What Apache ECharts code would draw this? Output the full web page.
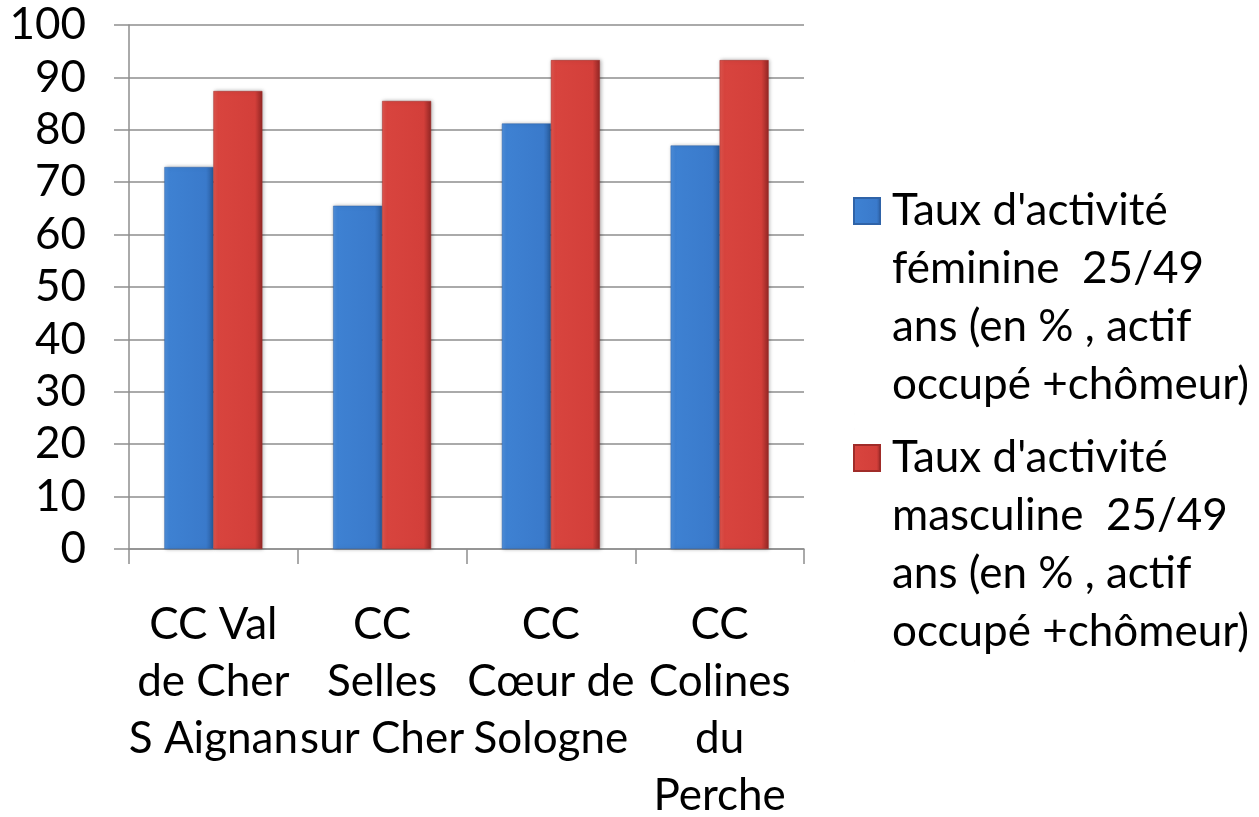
<!DOCTYPE html>
<html>
<head>
<meta charset="utf-8">
<script src="https://cdn.jsdelivr.net/npm/echarts@6/dist/echarts.min.js"></script>
<style>
  html, body { margin: 0; padding: 0; background: #fff; }
  #chart-1 { width: 1259px; height: 817px; }
</style>
</head>
<body>
<div id="chart-1"></div>
<script>
var categories = [
  "CC Val\nde Cher\nS Aignan",
  "CC\nSelles\nsur Cher",
  "CC\nCœur de\nSologne",
  "CC\nColines\ndu\nPerche",
];
var feminine = [72.9, 65.5, 81.2, 77.0];
var masculine = [87.4, 85.5, 93.3, 93.3];
var seriesNames = [
  "Taux d'activité\nféminine  25/49\nans (en % , actif\noccupé +chômeur)",
  "Taux d'activité\nmasculine  25/49\nans (en % , actif\noccupé +chômeur)",
];
var yTicks = { min: 0, max: 100, interval: 10 };

var FONT = "Lato";
var FONT_SIZE = 44;
var GRID_COLOR = "#8e8e8e";

// square swatch sitting level with the first line of a 4-line legend label
var LEGEND_LINE = 58;
var LEGEND_H = LEGEND_LINE * 4;
var legendIcon =
  "path://M0,0L0.01,0M0,16L26,16L26,42L0,42Z" +
  "M0," + LEGEND_H + "L0.01," + LEGEND_H;

function hGradient(stops) {
  return {
    type: "linear",
    x: 0, y: 0, x2: 1, y2: 0,
    colorStops: stops,
  };
}

var blueFill = hGradient([
  { offset: 0, color: "#4f90dd" },
  { offset: 0.1, color: "#3e81d2" },
  { offset: 0.85, color: "#3a7acb" },
  { offset: 1, color: "#2a5d9f" },
]);
var redFill = hGradient([
  { offset: 0, color: "#e2564f" },
  { offset: 0.1, color: "#d8443e" },
  { offset: 0.85, color: "#d33f3a" },
  { offset: 1, color: "#932725" },
]);

var dom = document.getElementById("chart-1");
var Chart1 = echarts.init(dom, null, { renderer: "canvas" });

var option = {
  animation: false,
  grid: {
    left: 129,
    right: 455,
    top: 25,
    bottom: 268,
    containLabel: false,
    outerBoundsMode: "none",
  },
  legend: {
    orient: "vertical",
    left: 853,
    top: 181,
    padding: 0,
    itemWidth: 26,
    itemHeight: LEGEND_H,
    itemGap: 13,
    icon: legendIcon,
    textStyle: {
      fontFamily: FONT,
      fontSize: FONT_SIZE,
      color: "#000",
      lineHeight: LEGEND_LINE,
      padding: [0, 0, 0, 7],
    },
  },
  xAxis: {
    type: "category",
    data: categories,
    axisLine: { show: true, lineStyle: { color: GRID_COLOR, width: 1.5 } },
    axisTick: { show: true, length: 15, lineStyle: { color: GRID_COLOR, width: 1.5 } },
    axisLabel: {
      interval: 0,
      margin: 47,
      fontFamily: FONT,
      fontSize: FONT_SIZE,
      lineHeight: 57,
      color: "#000",
    },
  },
  yAxis: {
    type: "value",
    min: yTicks.min,
    max: yTicks.max,
    interval: yTicks.interval,
    axisLine: { show: true, lineStyle: { color: GRID_COLOR, width: 1.5 } },
    axisTick: { show: true, length: 15, lineStyle: { color: GRID_COLOR, width: 1.5 } },
    splitLine: { show: true, lineStyle: { color: GRID_COLOR, width: 1.5 } },
    axisLabel: {
      margin: 43,
      fontFamily: FONT,
      fontSize: FONT_SIZE,
      color: "#000",
    },
  },
  series: [
    {
      name: seriesNames[0],
      type: "bar",
      barWidth: 49,
      barGap: "0%",
      data: feminine,
      itemStyle: {
        color: blueFill,
        borderColor: "#2f63a8",
        borderWidth: 0.5,
        shadowColor: "rgba(0,0,0,0.3)",
        shadowBlur: 4,
        shadowOffsetX: 1,
      },
    },
    {
      name: seriesNames[1],
      type: "bar",
      barWidth: 49,
      barGap: "0%",
      data: masculine,
      itemStyle: {
        color: redFill,
        borderColor: "#a02c29",
        borderWidth: 0.5,
        shadowColor: "rgba(0,0,0,0.3)",
        shadowBlur: 4,
        shadowOffsetX: 1,
      },
    },
  ],
};

Chart1.setOption(option);
window.addEventListener("resize", Chart1.resize);
</script>
</body>
</html>
